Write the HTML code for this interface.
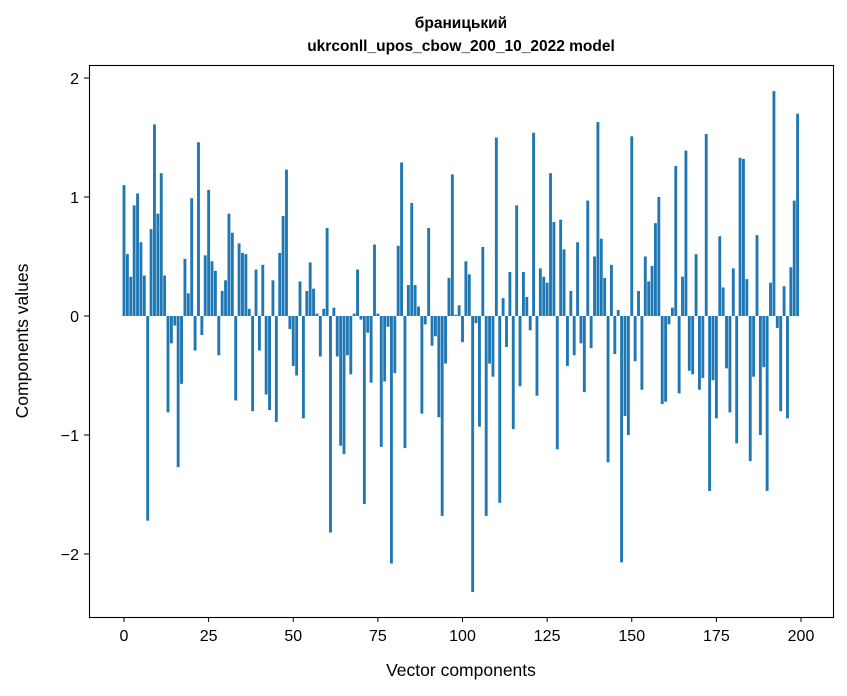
<!DOCTYPE html>
<html><head><meta charset="utf-8"><style>
html,body{margin:0;padding:0;background:#fff;}
svg{display:block;font-family:"Liberation Sans","DejaVu Sans",sans-serif;}
</style></head><body>
<svg id="chart" width="847" height="696" viewBox="0 0 847 696" xmlns="http://www.w3.org/2000/svg">
<rect width="847" height="696" fill="#fff"/>
<text x="461" y="28" text-anchor="middle" font-size="15.5" font-weight="bold">браницький</text>
<text x="461" y="51" text-anchor="middle" font-size="15.5" font-weight="bold">ukrconll_upos_cbow_200_10_2022 model</text>
<g id="bars"></g>
<g id="axes"></g>
<rect x="89.5" y="65.5" width="744" height="552" fill="none" stroke="#000" stroke-width="1.1"/>
<text x="461" y="676" text-anchor="middle" font-size="17.5">Vector components</text>
<text transform="translate(28,341) rotate(-90)" text-anchor="middle" font-size="17.5">Components values</text>
</svg>
<script>
const values = [1.1,0.52,0.33,0.93,1.03,0.62,0.34,-1.72,0.73,1.61,0.86,1.2,0.34,-0.81,-0.23,-0.08,-1.27,-0.57,0.48,0.19,
0.99,-0.29,1.46,-0.16,0.51,1.06,0.46,0.38,-0.33,0.21,0.3,0.86,0.7,-0.71,0.61,0.53,0.52,0.06,-0.8,0.39,
-0.29,0.43,-0.66,-0.79,0.3,-0.89,0.53,0.84,1.23,-0.11,-0.42,-0.5,0.29,-0.86,0.21,0.45,0.23,0.02,-0.34,0.06,
0.74,-1.82,0.07,-0.34,-1.09,-1.16,-0.33,-0.49,0.02,0.39,-0.03,-1.58,-0.14,-0.56,0.6,0.02,-1.1,-0.55,-0.09,-2.08,
-0.48,0.59,1.29,-1.11,0.26,0.95,0.26,0.08,-0.82,-0.07,0.74,-0.25,-0.17,-0.85,-1.68,-0.4,0.32,1.19,0.01,0.09,
-0.22,0.46,0.35,-2.32,-0.06,-0.93,0.58,-1.68,-0.4,-0.51,1.5,-1.57,0.15,-0.26,0.37,-0.95,0.93,-0.59,0.37,0.16,
-0.12,1.54,-0.67,0.4,0.33,0.28,1.2,0.79,-1.12,0.81,0.56,-0.42,0.21,-0.33,0.62,-0.23,-0.64,0.97,-0.27,0.5,
1.63,0.65,0.32,-1.23,0.43,-0.32,0.05,-2.07,-0.84,-1.0,1.51,-0.38,0.21,-0.62,0.5,0.29,0.42,0.78,1.0,-0.74,
-0.72,-0.07,0.07,1.26,-0.65,0.33,1.39,-0.46,-0.49,0.52,-0.62,-0.52,1.53,-1.47,-0.54,-0.86,0.67,0.24,-0.44,-0.81,
0.4,-1.07,1.33,1.32,0.31,-1.22,-0.51,0.68,-1.0,-0.43,-1.47,0.28,1.89,-0.1,-0.8,0.25,-0.86,0.41,0.97,1.7];
const xTicks = [0,25,50,75,100,125,150,175,200];
const yTicks = [-2,-1,0,1,2];
const yTickLabels = ["\u22122","\u22121","0","1","2"];

const NS = "http://www.w3.org/2000/svg";
const xScale = v => 124 + v * (801 - 124) / 200;
const yScale = v => 316 - v * 119;
const barsG = document.getElementById('bars');
const axesG = document.getElementById('axes');
const bw = 0.85 * (801 - 124) / 200;
values.forEach((v, i) => {
  const r = document.createElementNS(NS, 'rect');
  const y0 = yScale(0), y1 = yScale(v);
  r.setAttribute('x', xScale(i) - bw / 2);
  r.setAttribute('y', Math.min(y0, y1));
  r.setAttribute('width', bw);
  r.setAttribute('height', Math.abs(y1 - y0));
  r.setAttribute('fill', '#1f77b4');
  
  
  barsG.appendChild(r);
});
xTicks.forEach(t => {
  const x = xScale(t);
  const l = document.createElementNS(NS, 'line');
  l.setAttribute('x1', x); l.setAttribute('x2', x);
  l.setAttribute('y1', 617); l.setAttribute('y2', 622);
  l.setAttribute('stroke', '#000');
  
  
  axesG.appendChild(l);
  const tx = document.createElementNS(NS, 'text');
  tx.setAttribute('x', x); tx.setAttribute('y', 641);
  tx.setAttribute('text-anchor', 'middle');
  tx.setAttribute('font-size', '16');
  tx.textContent = t;
  
  
  axesG.appendChild(tx);
});
yTicks.forEach((t, i) => {
  const y = yScale(t);
  const l = document.createElementNS(NS, 'line');
  l.setAttribute('x1', 84); l.setAttribute('x2', 89.5);
  l.setAttribute('y1', y); l.setAttribute('y2', y);
  l.setAttribute('stroke', '#000');
  
  
  axesG.appendChild(l);
  const tx = document.createElementNS(NS, 'text');
  tx.setAttribute('x', 79); tx.setAttribute('y', y + 6);
  tx.setAttribute('text-anchor', 'end');
  tx.setAttribute('font-size', '16');
  tx.textContent = yTickLabels[i];
  
  
  axesG.appendChild(tx);
});
</script>
</body></html>
